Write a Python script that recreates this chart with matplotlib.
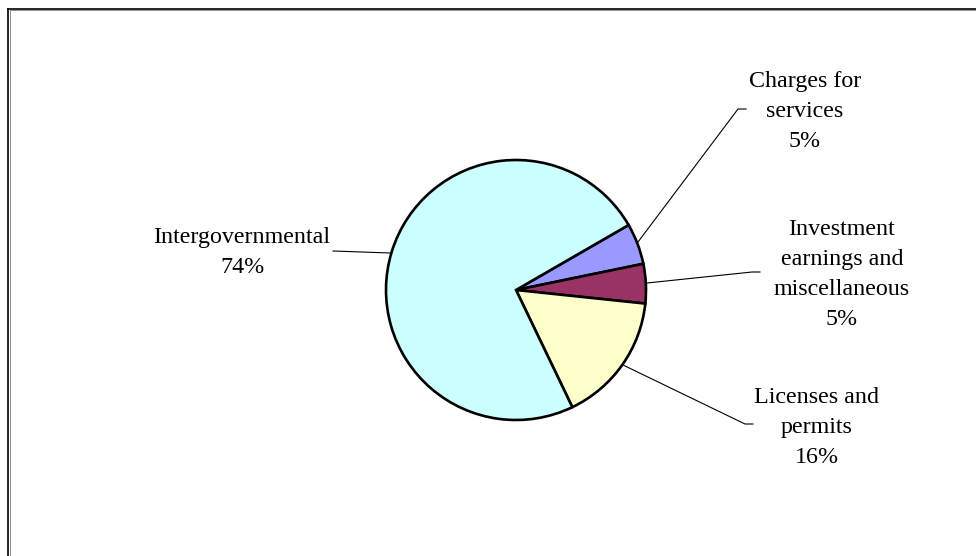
import matplotlib
matplotlib.use("Agg")
import matplotlib.pyplot as plt
from matplotlib.lines import Line2D

# ---- data ----
categories = ["Charges for\nservices", "Investment\nearnings and\nmiscellaneous",
              "Licenses and\npermits", "Intergovernmental"]
shares = [5.1, 4.9, 16.2, 73.8]
colors = ["#9999FF", "#993366", "#FFFFCC", "#CCFFFF"]

W, H = 976, 556
fig = plt.figure(figsize=(W / 100, H / 100), dpi=100)
ax = fig.add_axes([0, 0, 1, 1])

cx, cy, r = 516, H - 290, 130
wedges, _ = ax.pie(shares, colors=colors, startangle=30, counterclock=False,
                   center=(cx, cy), radius=r, frame=True,
                   wedgeprops=dict(edgecolor="black", linewidth=1.9))
ax.set_xlim(0, W)
ax.set_ylim(0, H)
ax.set_aspect("auto")
ax.set_axis_off()

font = dict(family="Liberation Serif", size=17.3, color="black")

def pct(v):
    return f"{round(v):d}%"

# label placement (last-line baseline, in pixel coords from top)
label_pos = [(805, 147), (842, 325), (817, 463), (242, 273)]
leaders = [
    [(638, 242), (738, 109), (746, 109)],
    [(647, 283), (752, 272), (760, 272)],
    [(623, 365), (745, 424), (753, 424)],
    [(390, 253), (333, 251)],
]
for cat, v, (lx, ly), pts in zip(categories, shares, label_pos, leaders):
    ax.text(lx, H - ly, f"{cat}\n{pct(v)}", ha="center", va="baseline",
            multialignment="center", linespacing=1.57, **font)
    xs = [p[0] for p in pts]
    ys = [H - p[1] for p in pts]
    ax.add_line(Line2D(xs, ys, color="black", linewidth=0.8))

# outer frame (top and left edges visible)
fig.add_artist(Line2D([8 / W, 1], [1 - 8.5 / H, 1 - 8.5 / H], transform=fig.transFigure,
                      color="black", linewidth=1.2))
fig.add_artist(Line2D([8 / W, 8 / W], [0, 1 - 8.5 / H], transform=fig.transFigure,
                      color="black", linewidth=1.2))
fig.add_artist(Line2D([9.5 / W, 1], [1 - 10 / H, 1 - 10 / H], transform=fig.transFigure,
                      color="#909090", linewidth=0.7))
fig.add_artist(Line2D([9.5 / W, 9.5 / W], [0, 1 - 10 / H], transform=fig.transFigure,
                      color="#909090", linewidth=0.7))

fig.savefig("out.png", dpi=100, facecolor="white")
